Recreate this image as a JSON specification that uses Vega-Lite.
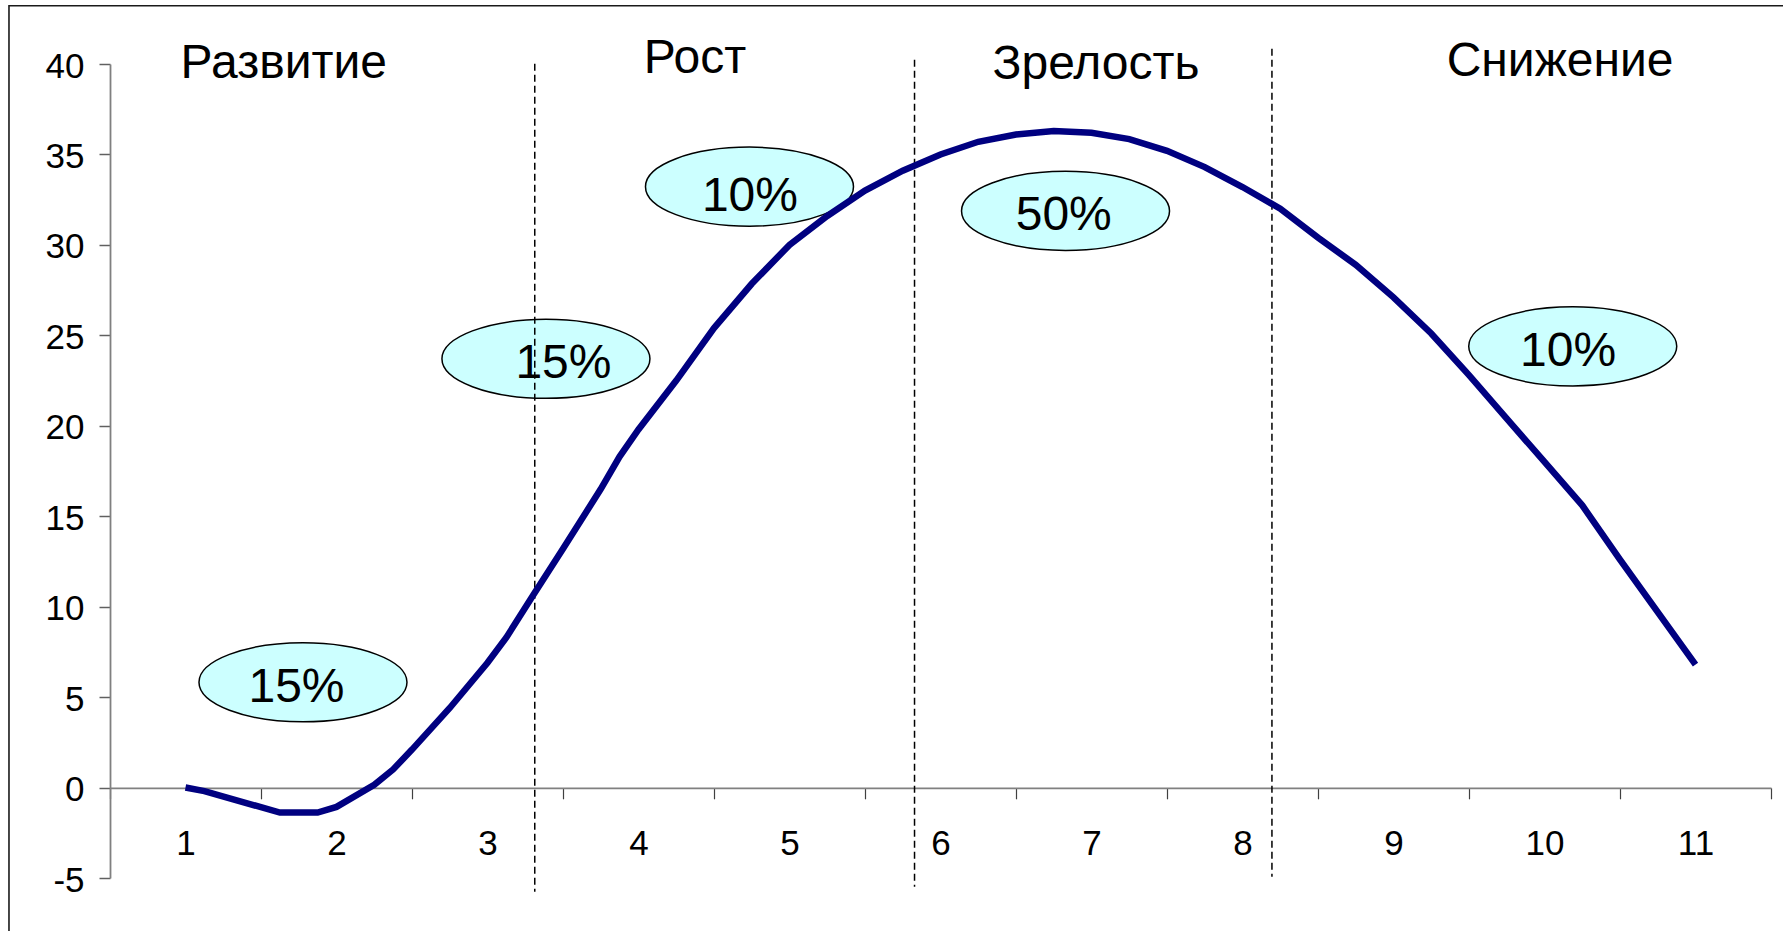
{
  "$schema": "https://vega.github.io/schema/vega-lite/v6.json",
  "autosize": {"type": "none"},
  "padding": {"left": 110, "top": 64, "right": 12, "bottom": 53},
  "width": 1661,
  "height": 814,
  "background": "white",
  "config": {"view": {"stroke": null}, "font": "Liberation Sans"},
  "datasets": {
    "curve": [
      {"x": 1.0, "y": 0.0}, {"x": 1.125, "y": -0.2}, {"x": 1.625, "y": -1.38}, {"x": 1.875, "y": -1.38},
      {"x": 2.0, "y": -1.07}, {"x": 2.25, "y": 0.15}, {"x": 2.375, "y": 1.0}, {"x": 2.5, "y": 2.1},
      {"x": 2.75, "y": 4.4}, {"x": 3.0, "y": 6.9}, {"x": 3.125, "y": 8.3}, {"x": 3.3, "y": 10.6},
      {"x": 3.5, "y": 13.2}, {"x": 3.75, "y": 16.5}, {"x": 3.875, "y": 18.3}, {"x": 4.0, "y": 19.8},
      {"x": 4.25, "y": 22.5}, {"x": 4.5, "y": 25.4}, {"x": 4.75, "y": 27.85}, {"x": 5.0, "y": 30.0},
      {"x": 5.25, "y": 31.6}, {"x": 5.5, "y": 33.0}, {"x": 5.75, "y": 34.1}, {"x": 6.0, "y": 35.0},
      {"x": 6.25, "y": 35.7}, {"x": 6.5, "y": 36.1}, {"x": 6.75, "y": 36.3}, {"x": 7.0, "y": 36.2},
      {"x": 7.25, "y": 35.85}, {"x": 7.5, "y": 35.2}, {"x": 7.75, "y": 34.3}, {"x": 8.0, "y": 33.2},
      {"x": 8.25, "y": 32.0}, {"x": 8.5, "y": 30.4}, {"x": 8.75, "y": 28.9}, {"x": 9.0, "y": 27.1},
      {"x": 9.25, "y": 25.1}, {"x": 9.5, "y": 22.8}, {"x": 9.75, "y": 20.4}, {"x": 10.0, "y": 18.0},
      {"x": 10.25, "y": 15.6}, {"x": 10.5, "y": 12.6}, {"x": 10.75, "y": 9.7}, {"x": 11.0, "y": 6.8}
    ],
    "ellipses": [
      {"x": 1.778, "y": 5.82},
      {"x": 3.387, "y": 23.7},
      {"x": 4.735, "y": 33.22},
      {"x": 6.828, "y": 31.88},
      {"x": 10.187, "y": 24.39}
    ],
    "shares": [
      {"x": 1.735, "y": 4.74, "label": "15%"},
      {"x": 3.503, "y": 22.65, "label": "15%"},
      {"x": 4.738, "y": 31.9, "label": "10%"},
      {"x": 6.816, "y": 30.8, "label": "50%"},
      {"x": 10.156, "y": 23.32, "label": "10%"}
    ],
    "phases": [
      {"x": 1.651, "y": 39.22, "label": "Развитие"},
      {"x": 4.374, "y": 39.5, "label": "Рост"},
      {"x": 7.03, "y": 39.17, "label": "Зрелость"},
      {"x": 10.103, "y": 39.35, "label": "Снижение"}
    ],
    "dividers": [
      {"x": 3.313, "y": 40.01, "y2": -5.76},
      {"x": 5.828, "y": 40.24, "y2": -5.48},
      {"x": 8.195, "y": 40.84, "y2": -4.93}
    ],
    "frame": [
      {"x": -0.169, "x2": 12.6, "y": 43.22, "y2": -10}
    ]
  },
  "encoding": {
    "x": {
      "field": "x",
      "type": "quantitative",
      "scale": {"domain": [0.5, 11.5], "nice": false, "zero": false},
      "axis": {
        "title": null,
        "grid": false,
        "values": [0.5, 1.5, 2.5, 3.5, 4.5, 5.5, 6.5, 7.5, 8.5, 9.5, 10.5, 11.5],
        "labelExpr": "datum.value < 11 ? format(datum.value + 0.5, 'd') : ''",
        "labelOffset": 75.5,
        "labelFlush": false,
        "labelOverlap": false,
        "offset": -90.2,
        "tickSize": 11,
        "tickColor": "#404040",
        "tickWidth": 1.2,
        "domainColor": "#808080",
        "domainWidth": 1.8,
        "labelFont": "Liberation Sans",
        "labelFontSize": 35,
        "labelColor": "black",
        "labelPadding": 28
      }
    },
    "y": {
      "field": "y",
      "type": "quantitative",
      "scale": {"domain": [-5, 40], "nice": false, "zero": false},
      "axis": {
        "title": null,
        "grid": false,
        "values": [-5, 0, 5, 10, 15, 20, 25, 30, 35, 40],
        "labelExpr": "toString(datum.value)",
        "tickSize": 11,
        "tickColor": "#606060",
        "tickWidth": 1.5,
        "domainColor": "#808080",
        "domainWidth": 1.8,
        "labelFont": "Liberation Sans",
        "labelFontSize": 35,
        "labelColor": "black",
        "labelPadding": 15,
        "labelOffset": 2
      }
    }
  },
  "layer": [
    {
      "data": {"name": "frame"},
      "mark": {"type": "rect", "fill": null, "stroke": "#1a1a1a", "strokeWidth": 1.6},
      "encoding": {"x2": {"field": "x2"}, "y2": {"field": "y2"}}
    },
    {
      "data": {"name": "ellipses"},
      "mark": {
        "type": "point",
        "shape": "M-1,0C-1,-0.21,-0.552,-0.38,0,-0.38C0.552,-0.38,1,-0.21,1,0C1,0.21,0.552,0.38,0,0.38C-0.552,0.38,-1,0.21,-1,0Z",
        "size": 43264,
        "filled": true,
        "fill": "#CCFFFF",
        "stroke": "black",
        "strokeWidth": 1.5,
        "opacity": 1
      }
    },
    {
      "data": {"name": "dividers"},
      "mark": {"type": "rule", "color": "black", "strokeWidth": 1.5, "strokeDash": [7, 4]},
      "encoding": {"y2": {"field": "y2"}}
    },
    {
      "data": {"name": "curve"},
      "mark": {"type": "line", "color": "#000080", "strokeWidth": 6.5, "strokeJoin": "miter"}
    },
    {
      "data": {"name": "shares"},
      "mark": {"type": "text", "font": "Liberation Sans", "fontSize": 48, "color": "black", "align": "center", "baseline": "alphabetic"},
      "encoding": {"text": {"field": "label"}}
    },
    {
      "data": {"name": "phases"},
      "mark": {"type": "text", "font": "Liberation Sans", "fontSize": 48, "color": "black", "align": "center", "baseline": "alphabetic"},
      "encoding": {"text": {"field": "label"}}
    }
  ]
}
